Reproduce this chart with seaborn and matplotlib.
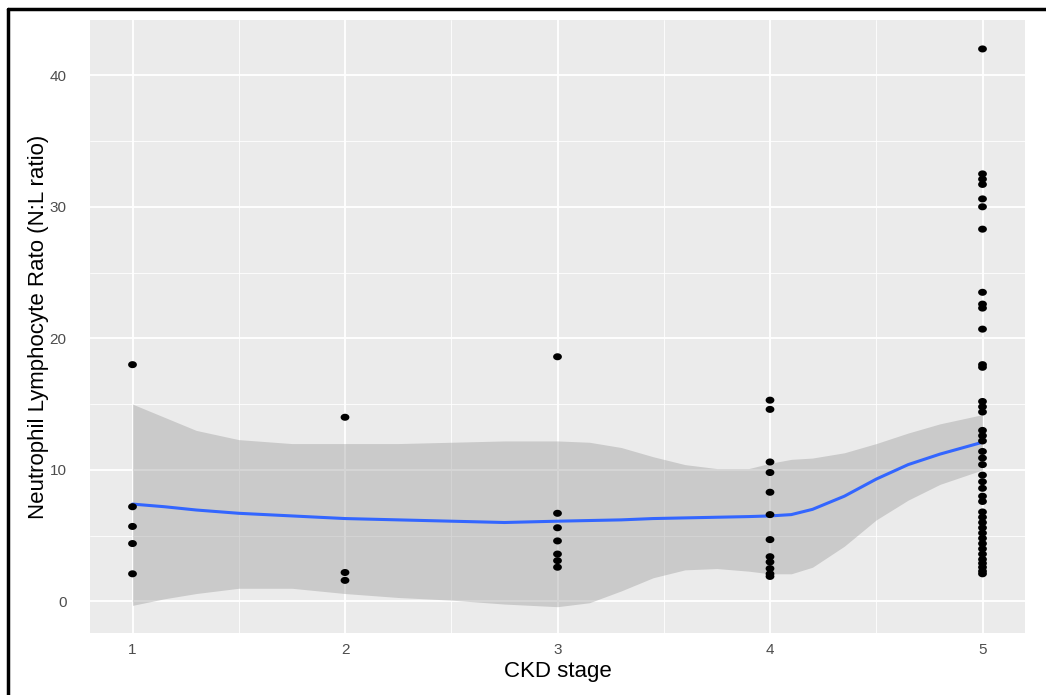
import numpy as np
import pandas as pd
import matplotlib
matplotlib.use("Agg")
import matplotlib.pyplot as plt
from matplotlib.lines import Line2D
from matplotlib.path import Path
import seaborn as sns

# ---- data ----
stage1 = [18.0, 7.2, 5.7, 4.4, 2.1]
stage2 = [14.0, 2.2, 1.6]
stage3 = [18.6, 6.7, 5.6, 4.6, 3.6, 3.1, 2.6]
stage4 = [15.3, 14.6, 10.6, 9.8, 8.3, 6.6, 4.7, 3.4, 3.0, 2.5, 2.1, 1.9]
stage5 = [42.0, 32.5, 32.1, 31.7, 30.6, 30.0, 28.3, 23.5, 22.6, 22.3, 20.7,
          18.0, 17.8, 15.2, 14.8, 14.4, 13.0, 12.6, 12.2, 11.4, 10.9, 10.4,
          9.6, 9.1, 8.6, 8.0, 7.6, 6.8, 6.4, 6.0, 5.6, 5.2, 4.8, 4.4, 4.0,
          3.6, 3.2, 2.9, 2.6, 2.3, 2.1]

# smoothed trend with confidence band
smooth_x = [1.0, 1.15, 1.3, 1.5, 1.75, 2.0, 2.25, 2.5, 2.75, 3.0, 3.15, 3.3,
            3.45, 3.6, 3.75, 3.9, 4.0, 4.1, 4.2, 4.35, 4.5, 4.65, 4.8, 5.0]
smooth_fit = [7.4, 7.2, 6.95, 6.7, 6.5, 6.3, 6.2, 6.1, 6.0, 6.1, 6.15, 6.2,
              6.3, 6.35, 6.4, 6.45, 6.5, 6.6, 7.0, 8.0, 9.3, 10.4, 11.2, 12.1]
smooth_lo = [-0.3, 0.2, 0.6, 1.0, 1.0, 0.6, 0.3, 0.1, -0.2, -0.4, -0.1, 0.8,
             1.8, 2.4, 2.5, 2.3, 2.1, 2.1, 2.6, 4.2, 6.2, 7.7, 8.9, 10.0]
smooth_hi = [15.0, 14.0, 13.0, 12.3, 12.0, 12.0, 12.0, 12.1, 12.2, 12.2,
             12.1, 11.7, 11.0, 10.4, 10.1, 10.1, 10.5, 10.8, 10.9, 11.3, 12.0,
             12.8, 13.5, 14.2]

x_ticks = [1, 2, 3, 4, 5]
y_ticks = [0, 10, 20, 30, 40]
x_label = "CKD stage"
y_label = "Neutrophil Lymphocyte Rato (N:L ratio)"

stages = [stage1, stage2, stage3, stage4, stage5]
pts = pd.DataFrame({
    "stage": np.concatenate([[i + 1] * len(s) for i, s in enumerate(stages)]),
    "nlr": np.concatenate(stages),
})
sm = pd.DataFrame({"x": smooth_x, "fit": smooth_fit, "lo": smooth_lo, "hi": smooth_hi})

sns.set_theme(style="darkgrid")
plt.rcParams["font.family"] = ["Liberation Sans", "DejaVu Sans"]

# slightly wide elliptical dot, as in the (horizontally stretched) reference
t = np.linspace(0, 2 * np.pi, 41)
ellipse = Path(np.column_stack([1.25 * np.cos(t), np.sin(t)]), closed=True)

fig = plt.figure(figsize=(10.46, 6.95), dpi=100)
ax = fig.add_axes([90 / 1046, 1 - 633 / 695, (1025 - 90) / 1046, (633 - 20) / 695])
ax.set_facecolor("#EBEBEB")

ax.fill_between(sm["x"], sm["lo"], sm["hi"], color="#999999", alpha=0.4,
                linewidth=0, zorder=2)
sns.lineplot(data=sm, x="x", y="fit", ax=ax, color="#3366FF", linewidth=2.2,
             zorder=3)
sns.scatterplot(data=pts, x="stage", y="nlr", ax=ax, color="black", s=40,
                marker=ellipse, edgecolor="none", zorder=4)

ax.set_xlim(0.8, 5.2)
ax.set_ylim(-2.4, 44.2)
ax.set_xticks(x_ticks)
ax.set_yticks(y_ticks)
ax.set_xticks([1.5, 2.5, 3.5, 4.5], minor=True)
ax.set_yticks([5, 15, 25, 35], minor=True)
ax.grid(which="major", color="white", linewidth=1.3)
ax.grid(which="minor", color="white", linewidth=0.6)
ax.set_axisbelow(True)
for sp in ax.spines.values():
    sp.set_visible(False)
ax.tick_params(axis="both", which="major", width=1, color="#333333",
               labelcolor="#4D4D4D", labelsize=11)
ax.tick_params(axis="x", which="major", length=4, pad=3)
ax.tick_params(axis="y", which="major", length=5, pad=12)
ax.tick_params(axis="both", which="minor", length=0)
ax.set_xlabel(x_label, fontsize=16, color="black", labelpad=3)
ax.set_ylabel(y_label, fontsize=16, color="black", labelpad=0)

fig.add_artist(Line2D([8 / 1046, 8 / 1046], [0, 1 - 9 / 695], color="black",
                      linewidth=2.5, transform=fig.transFigure))
fig.add_artist(Line2D([8 / 1046, 1], [1 - 9 / 695, 1 - 9 / 695], color="black",
                      linewidth=2.5, transform=fig.transFigure))

fig.savefig("out.png", dpi=100, facecolor="white")
